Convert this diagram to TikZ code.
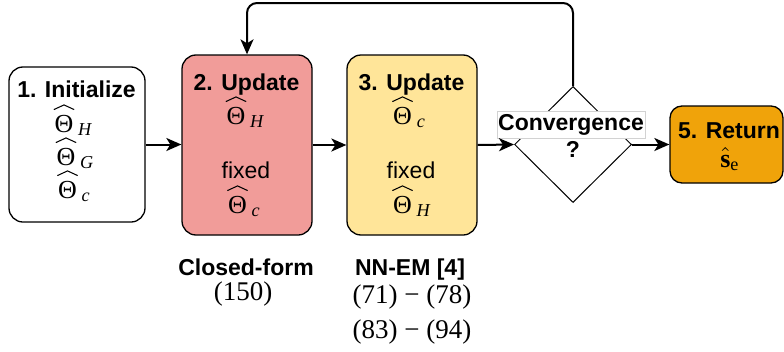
\documentclass[tikz,border=0pt]{standalone}
\usepackage{amsmath}
\usepackage{graphicx}
\usepackage[no-math]{fontspec}
\setmainfont{Liberation Sans}
\newfontfamily\serifnum{Liberation Serif}
\usetikzlibrary{arrows.meta,shapes.geometric}
\definecolor{redfill}{HTML}{F19C99}
\definecolor{yellowfill}{HTML}{FFE599}
\definecolor{orangefill}{HTML}{F0A30A}
\newcommand{\hatg}{\tikz[x=1pt,y=1pt,baseline=0pt]{\draw[black,solid,line width=0.4pt,-,line join=miter] (0,0) .. controls (2,0.8) .. (3.9,1.8) .. controls (5.8,0.8) .. (7.8,0);}}
\newcommand{\thh}[1]{\scalebox{2.6}{\fontsize{10}{12}\selectfont${\overset{\hatg}{\text{Θ}}}_{\,\text{\itshape #1}}$}}
\newcommand{\shat}{\scalebox{2.6}{\fontsize{10}{12}\selectfont$\hat{\text{\bfseries s}}_{\text{e}}$}}
\tikzset{
  box/.style={draw=black, line width=1.3pt, rounded corners=14pt, inner sep=0pt},
  lbl/.style={font=\bfseries\fontsize{23}{27}\selectfont, anchor=base, inner sep=0pt},
  txt/.style={font=\fontsize{23}{27}\selectfont, anchor=base, inner sep=0pt},
  mth/.style={font=\serifnum, anchor=base, inner sep=0pt},
  num/.style={font=\serifnum\fontsize{27}{32}\selectfont, anchor=base, inner sep=0pt},
  arr/.style={line width=2pt, -{Stealth[length=15pt,width=13pt,inset=4pt]}},
}
\begin{document}
\begin{tikzpicture}[x=1pt,y=-1pt]
\useasboundingbox (0,0) rectangle (784,351);
% boxes
\node[box, fill=white, minimum width=136pt, minimum height=155pt] (b1) at (77,144.5) {};
\node[box, fill=redfill, minimum width=130pt, minimum height=180pt] (b2) at (247,145) {};
\node[box, fill=yellowfill, minimum width=130pt, minimum height=180pt] (b3) at (412,145) {};
\node[diamond, draw=black, line width=1pt, minimum width=117pt, minimum height=116pt, inner sep=0pt] (dia) at (573,144.5) {};
\node[box, fill=orangefill, rounded corners=12pt, minimum width=113pt, minimum height=77pt] (b5) at (726.5,144.5) {};
% box 1 text
\node[lbl] (t1) at (76.5,97) {1. Initialize};
\node[mth] (m1a) at (73,132) {\thh{H}};
\node[mth] (m1b) at (75,165) {\thh{G}};
\node[mth] (m1c) at (74,198) {\thh{c}};
% box 2 text
\node[lbl] (t2) at (246.5,90) {2. Update};
\node[mth] (m2a) at (245,124) {\thh{H}};
\node[txt] (f2) at (246,178) {fixed};
\node[mth] (m2b) at (244,213) {\thh{c}};
% box 3 text
\node[lbl] (t3) at (411.5,90) {3. Update};
\node[mth] (m3a) at (409,124) {\thh{c}};
\node[txt] (f3) at (411,178) {fixed};
\node[mth] (m3b) at (411.5,213) {\thh{H}};
% diamond text
\node[lbl, fill=white, draw=gray!35, line width=0.6pt, inner xsep=1pt, inner ysep=3pt] (conv) at (571,130) {Convergence};
\node[lbl] (q) at (573,157) {?};
% box 5 text
\node[lbl] (t5) at (729,138) {5. Return};
\node[mth] (m5) at (730,167) {\shat};
% bottom labels
\node[lbl] (cf) at (246,275) {Closed-form};
\node[num] (n150) at (243,300) {(150)};
\node[lbl] (nn) at (410,275) {NN-EM [4]};
\node[num] (n71) at (412,303) {(71) − (78)};
\node[num] (n83) at (412,338) {(83) − (94)};
% connectors
\draw[arr] (b1.east) -- (b1.east -| b2.west);
\draw[arr] (b2.east) -- (b2.east -| b3.west);
\draw[arr] (b3.east) -- (dia.west);
\draw[arr] (dia.east) -- (b5.west);
\coordinate (topc) at (0,3);
\draw[arr, rounded corners=10pt] (dia.north) -- (dia.north |- topc) -- (b2.north |- topc) -- (b2.north);
\end{tikzpicture}
\end{document}
